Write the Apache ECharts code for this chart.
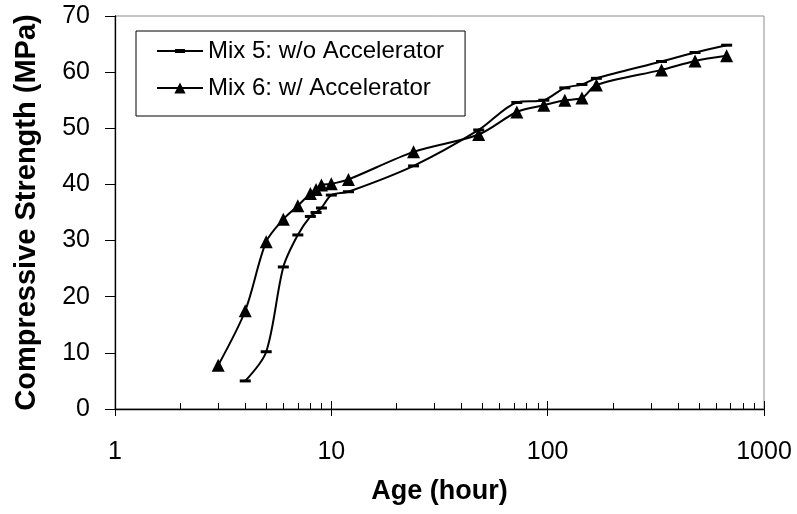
<!DOCTYPE html>
<html>
<head>
<meta charset="utf-8">
<script src="https://cdn.jsdelivr.net/npm/echarts@6/dist/echarts.min.js"></script>
<style>html,body{margin:0;padding:0;background:#fff;}#c{width:797px;height:514px;}</style>
</head>
<body>
<div id="c"></div>
<script>
var seriesNames = ['Mix 5: w/o Accelerator', 'Mix 6: w/ Accelerator'];
var hoursMix5 = [4, 5, 6, 7, 8, 8.5, 9, 10, 12, 24, 48, 72, 96, 120, 144, 168, 336, 480, 672];
var strengthMix5 = [5, 10.2, 25.3, 31, 34.3, 35, 35.8, 38.1, 38.7, 43.3, 49.7, 54.6, 55, 57.2, 57.8, 58.9, 61.9, 63.5, 64.8];
var hoursMix6 = [3, 4, 5, 6, 7, 8, 8.5, 9, 10, 12, 24, 48, 72, 96, 120, 144, 168, 336, 480, 672];
var strengthMix6 = [7.8, 17.5, 29.8, 33.8, 36.2, 38.4, 39.1, 39.9, 40.1, 40.9, 45.8, 48.9, 52.9, 54.1, 55, 55.4, 57.7, 60.4, 62, 62.9];
var xMajorTicks = [1, 10, 100, 1000];
var xMinorTicks = [2, 3, 4, 5, 6, 7, 8, 9, 20, 30, 40, 50, 60, 70, 80, 90, 200, 300, 400, 500, 600, 700, 800, 900];
var yTicks = [0, 10, 20, 30, 40, 50, 60, 70];
var xTitle = 'Age (hour)';
var yTitle = 'Compressive Strength (MPa)';

function pairs(xs, ys) { return xs.map(function (x, i) { return [x, ys[i]]; }); }

var FONT = 'Liberation Sans, Arial, sans-serif';
var chart = echarts.init(document.getElementById('c'), null, { renderer: 'canvas' });
var baseX = { type: 'log', logBase: 10, min: 1, max: 1000, position: 'bottom', gridIndex: 0 };
chart.setOption({
  animation: false,
  backgroundColor: '#fff',
  grid: { left: 115, right: 33, top: 16, bottom: 105, show: true, borderColor: '#8c8c8c', borderWidth: 1, backgroundColor: 'transparent' },
  legend: {
    orient: 'vertical', left: 136, top: 31,
    padding: [7, 21, 15, 20], itemGap: 11, itemWidth: 46, itemHeight: 14,
    borderColor: '#000', borderWidth: 1, backgroundColor: '#fff',
    symbolKeepAspect: true,
    textStyle: { fontFamily: FONT, fontSize: 24, color: '#000', lineHeight: 26 },
    data: [
      { name: seriesNames[0], icon: 'path://M0,1L46,1L46,3L0,3Z M18,0L28,0L28,4L18,4Z' },
      { name: seriesNames[1] }
    ]
  },
  xAxis: [
    Object.assign({}, baseX, {
      name: xTitle, nameLocation: 'middle', nameGap: 69,
      nameTextStyle: { fontFamily: FONT, fontSize: 27, fontWeight: 'bold', color: '#000' },
      axisLine: { show: true, lineStyle: { color: '#000', width: 1.3 } },
      axisTick: { show: true, inside: false, length: 7, lineStyle: { color: '#000', width: 1 }, customValues: xMajorTicks },
      axisLabel: { show: true, margin: 31, fontFamily: FONT, fontSize: 25, color: '#000', customValues: xMajorTicks, formatter: function (v) { return String(v); } },
      splitLine: { show: false }, minorTick: { show: false }
    }),
    Object.assign({}, baseX, {
      axisLine: { show: false },
      axisTick: { show: true, inside: true, length: 8, lineStyle: { color: '#000', width: 1 }, customValues: xMajorTicks },
      axisLabel: { show: false }, splitLine: { show: false }
    }),
    Object.assign({}, baseX, {
      axisLine: { show: false },
      axisTick: { show: true, inside: true, length: 6, lineStyle: { color: '#000', width: 1 }, customValues: xMinorTicks },
      axisLabel: { show: false }, splitLine: { show: false }
    })
  ],
  yAxis: {
    type: 'value', min: 0, max: 70, interval: 10,
    name: yTitle, nameLocation: 'middle', nameRotate: 90, nameGap: 74,
    nameTextStyle: { fontFamily: FONT, fontSize: 29, fontWeight: 'bold', color: '#000' },
    axisLine: { show: true, lineStyle: { color: '#000', width: 1.3 } },
    axisTick: { show: true, inside: false, length: 10, lineStyle: { color: '#000', width: 1 } },
    axisLabel: { margin: 25, fontFamily: FONT, fontSize: 25, color: '#000', customValues: yTicks },
    splitLine: { show: false }
  },
  series: [
    {
      name: seriesNames[0], type: 'line', xAxisIndex: 0, data: pairs(hoursMix5, strengthMix5),
      smooth: 0.3, symbol: 'rect', symbolSize: [11, 3],
      lineStyle: { color: '#000', width: 2 }, itemStyle: { color: '#000' }
    },
    {
      name: seriesNames[1], type: 'line', xAxisIndex: 0, data: pairs(hoursMix6, strengthMix6),
      smooth: 0.3, symbol: 'triangle', symbolSize: 13,
      lineStyle: { color: '#000', width: 2 }, itemStyle: { color: '#000' }
    }
  ]
});
</script>
</body>
</html>
